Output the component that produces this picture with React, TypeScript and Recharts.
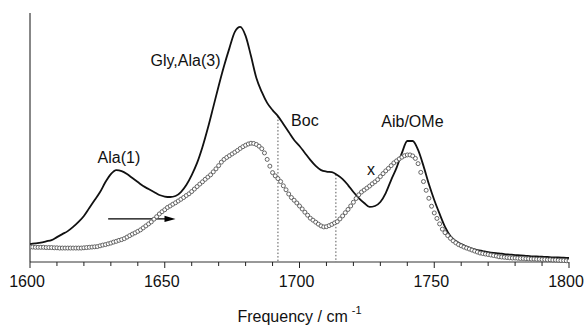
import React from 'react';
import { LineChart, Line, XAxis, YAxis, ReferenceLine, ReferenceDot } from 'recharts';

// frequency grid (cm-1)
const START = 1600;
const SOLID_STEP = 2;
const CIRCLE_STEP = 1;

// solid spectrum, every 2 cm-1 from 1600 to 1800
const solidValues = [
  7.2, 7.5, 7.8, 8.3, 8.8, 10.0, 11.2, 12.4, 14.1, 16.1,
  18.5, 21.7, 24.9, 28.1, 32.1, 35.3, 36.9, 36.5, 35.3, 33.7,
  32.1, 30.5, 29.3, 28.1, 26.9, 26.3, 26.1, 26.5, 28.1, 30.9,
  34.9, 39.8, 46.2, 53.8, 62.2, 70.7, 78.7, 85.9, 92.4, 94.4,
  90.8, 82.7, 73.9, 68.3, 63.9, 61.0, 58.6, 55.4, 52.2, 49.0,
  46.6, 43.8, 41.0, 38.6, 36.9, 36.3, 36.1, 34.9, 33.3, 30.9,
  28.1, 25.7, 23.7, 22.1, 22.5, 24.1, 27.7, 32.9, 37.8, 43.8,
  48.6, 48.6, 45.0, 38.6, 31.3, 24.9, 19.3, 14.1, 10.4, 8.4,
  7.2, 6.2, 5.4, 4.8, 4.4, 4.0, 3.7, 3.5, 3.2, 3.0,
  2.8, 2.7, 2.5, 2.3, 2.2, 2.1, 2.0, 1.8, 1.8, 1.7,
  1.6,
];

// open-circle spectrum, every 1 cm-1 from 1600 to 1800
const circleValues = [
  6.0, 6.0, 5.9, 5.9, 5.9, 5.9, 5.8, 5.8, 5.8, 5.7,
  5.7, 5.6, 5.6, 5.6, 5.6, 5.6, 5.6, 5.6, 5.6, 5.6,
  5.7, 5.8, 5.9, 6.0, 6.1, 6.2, 6.5, 6.8, 7.0, 7.3,
  7.6, 8.0, 8.3, 8.7, 9.0, 9.4, 10.0, 10.6, 11.2, 11.7,
  12.3, 12.9, 13.7, 14.5, 15.3, 16.1, 17.2, 18.2, 19.3, 20.2,
  21.0, 21.9, 22.5, 23.2, 23.8, 24.5, 25.2, 25.9, 26.7, 27.4,
  28.3, 29.3, 30.3, 31.3, 32.2, 33.2, 34.1, 35.0, 36.2, 37.4,
  38.7, 40.1, 41.2, 42.0, 42.7, 43.4, 44.1, 44.8, 45.6, 46.3,
  46.9, 47.4, 47.7, 47.6, 47.2, 46.5, 45.5, 43.8, 41.2, 38.5,
  35.9, 34.6, 33.5, 32.3, 30.6, 29.0, 27.3, 25.9, 24.8, 23.7,
  22.5, 21.3, 20.0, 18.8, 17.6, 16.8, 16.0, 15.2, 14.5, 14.1,
  14.2, 14.6, 15.1, 15.7, 16.2, 17.3, 18.5, 19.8, 21.1, 22.5,
  24.0, 25.5, 27.0, 28.1, 28.9, 29.7, 30.5, 31.4, 32.2, 33.1,
  34.3, 35.5, 36.6, 37.6, 38.7, 39.8, 40.6, 41.4, 42.1, 42.7,
  43.0, 43.0, 42.6, 41.6, 39.5, 36.0, 32.3, 28.8, 25.6, 22.4,
  19.7, 17.5, 15.3, 13.2, 11.8, 10.6, 9.5, 8.5, 7.7, 7.0,
  6.5, 6.0, 5.6, 5.2, 4.8, 4.4, 4.0, 3.6, 3.4, 3.2,
  3.0, 2.8, 2.6, 2.4, 2.1, 2.0, 1.9, 1.8, 1.7, 1.6,
  1.6, 1.5, 1.4, 1.4, 1.3, 1.3, 1.2, 1.2, 1.1, 1.1,
  1.0, 1.0, 0.9, 0.9, 0.8, 0.8, 0.7, 0.6, 0.6, 0.5,
  0.4,
];

const xTicks = [
  1600, 1610, 1620, 1630, 1640, 1650, 1660, 1670, 1680, 1690, 1700,
  1710, 1720, 1730, 1740, 1750, 1760, 1770, 1780, 1790, 1800,
];

// dotted markers under the solid curve
const markerFreqs = [1692, 1713.5];

const annotations = [
  { text: 'Ala(1)', freq: 1633, value: 42.2 },
  { text: 'Gly,Ala(3)', freq: 1657.7, value: 81.1 },
  { text: 'Boc', freq: 1702, value: 56.9 },
  { text: 'x', freq: 1726.5, value: 37.2 },
  { text: 'Aib/OMe', freq: 1741.9, value: 56.5 },
];

const arrow = { from: 1629, to: 1654, value: 17.3 };

const solidData = solidValues.map((v, i) => ({ freq: START + i * SOLID_STEP, value: v }));
const circleData = circleValues.map((v, i) => ({ freq: START + i * CIRCLE_STEP, value: v }));

const solidAt = (f: number) => {
  const pos = (f - START) / SOLID_STEP;
  const i = Math.floor(pos);
  const t = pos - i;
  const a = solidValues[i];
  const b = solidValues[Math.min(i + 1, solidValues.length - 1)];
  return a + (b - a) * t;
};

const FreqTick = (props: any) => {
  const { x, y, payload } = props;
  const major = payload.value % 50 === 0;
  return (
    <g>
      <line x1={x} y1={y} x2={x} y2={y + (major ? 6 : 4)} stroke="#222" strokeWidth={1} />
      {major && (
        <text x={x - 3} y={y + 25} textAnchor="middle" fontSize={16} fill="#111">
          {payload.value}
        </text>
      )}
    </g>
  );
};

const AxisTitle = (props: any) => {
  const { viewBox } = props;
  const cx = viewBox.x + viewBox.width / 2;
  return (
    <text x={cx} y={viewBox.y + 60} textAnchor="middle" fontSize={16} fill="#111">
      Frequency / cm
      <tspan fontSize={11} dx={4} dy={-8}>-1</tspan>
    </text>
  );
};

const ArrowShape = (p: any) => {
  const { x1, y1, x2, y2 } = p;
  return (
    <g>
      <line x1={x1} y1={y1} x2={x2 - 8} y2={y2} stroke="#000" strokeWidth={1.4} />
      <polygon points={`${x2},${y2} ${x2 - 11},${y2 - 3.2} ${x2 - 11},${y2 + 3.2}`} fill="#000" />
    </g>
  );
};

export default function App() {
  return (
    <div style={{ position: 'absolute', left: 0, top: 0, width: 584, height: 327, background: '#fff' }}>
      <LineChart
        width={584}
        height={327}
        margin={{ top: 13, right: 15, bottom: 0, left: 0 }}
        style={{ fontFamily: '"Liberation Sans", Arial, sans-serif' }}
      >
        <XAxis
          dataKey="freq"
          type="number"
          domain={[1600, 1800]}
          ticks={xTicks}
          interval={0}
          allowDataOverflow
          height={65}
          tickSize={0}
          tickMargin={0}
          tickLine={false}
          tick={<FreqTick />}
          axisLine={{ stroke: '#333', strokeWidth: 1 }}
          label={<AxisTitle />}
        />
        <YAxis
          type="number"
          domain={[0, 100]}
          width={30}
          tick={false}
          tickLine={false}
          axisLine={{ stroke: '#111', strokeWidth: 1 }}
        />
        {markerFreqs.map((f) => (
          <ReferenceLine
            key={f}
            segment={[{ x: f, y: solidAt(f) }, { x: f, y: 0 }]}
            stroke="#555"
            strokeDasharray="1.5 2"
            strokeWidth={1}
          />
        ))}
        <ReferenceLine
          segment={[{ x: arrow.from, y: arrow.value }, { x: arrow.to, y: arrow.value }]}
          shape={<ArrowShape />}
        />
        <Line
          data={circleData}
          dataKey="value"
          type="linear"
          stroke="none"
          isAnimationActive={false}
          dot={{ r: 2, stroke: '#555', strokeWidth: 0.9, fill: '#fff' }}
          activeDot={false}
        />
        <Line
          data={solidData}
          dataKey="value"
          type="monotone"
          stroke="#111"
          strokeWidth={1.8}
          dot={false}
          activeDot={false}
          isAnimationActive={false}
        />
        {annotations.map((a) => (
          <ReferenceDot
            key={a.text}
            x={a.freq}
            y={a.value}
            r={0}
            fill="none"
            stroke="none"
            label={{ value: a.text, position: 'center', fontSize: 16, fill: '#111' }}
          />
        ))}
      </LineChart>
    </div>
  );
}
